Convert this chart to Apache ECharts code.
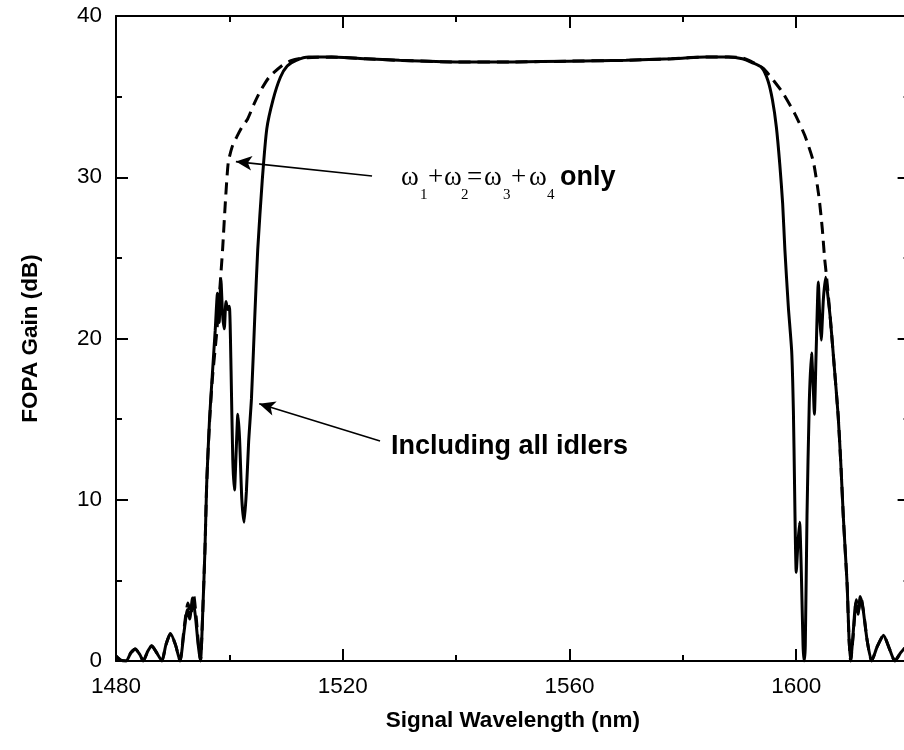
<!DOCTYPE html>
<html><head><meta charset="utf-8">
<script src="https://cdn.jsdelivr.net/npm/echarts@6/dist/echarts.min.js"></script>
<style>html,body{margin:0;padding:0;background:#fff}#c{width:904px;height:750px}</style>
</head><body><div id="c"></div>
<script>
// Wavelength (nm) / gain (dB), "Including all idlers" (solid)
const solidX = [1480.0,1480.8,1481.8,1482.6,1483.4,1484.2,1484.8,1485.6,1486.3,1487.2,1488.1,1488.8,1489.6,1490.5,1491.3,1492.0,1492.6,1493.0,1493.5,1494.0,1494.5,1494.9,1495.3,1495.7,1496.0,1496.5,1497.0,1497.5,1497.9,1498.2,1498.5,1498.8,1499.1,1499.4,1499.7,1500.0,1500.3,1500.6,1500.9,1501.2,1501.5,1501.8,1502.2,1502.6,1503.0,1503.4,1503.9,1504.5,1505.0,1505.8,1506.6,1507.7,1509.0,1510.2,1511.8,1514.0,1518.0,1524.0,1530.0,1540.0,1550.0,1560.0,1570.0,1578.0,1584.0,1588.0,1590.5,1592.3,1593.9,1595.0,1595.8,1596.5,1597.1,1597.6,1598.0,1598.6,1599.2,1599.5,1599.7,1599.85,1600.0,1600.3,1600.6,1600.9,1601.2,1601.4,1601.6,1601.9,1602.3,1602.7,1603.0,1603.2,1603.5,1603.9,1604.15,1604.4,1604.8,1605.2,1605.5,1606.0,1606.7,1607.4,1607.9,1608.3,1608.7,1609.0,1609.3,1609.6,1610.0,1610.5,1610.9,1611.3,1611.8,1612.5,1613.3,1614.3,1615.4,1616.4,1617.4,1618.4,1619.2,1620.0];
const solidY = [0.3,0.05,0.0,0.5,0.75,0.4,0.0,0.6,0.95,0.5,0.0,1.0,1.7,1.0,0.0,1.8,3.2,2.6,3.9,2.8,1.0,0.0,3.0,7.0,11.0,15.0,17.8,20.5,22.8,21.0,23.7,21.5,20.6,22.3,21.8,22.0,18.0,12.5,10.6,13.0,15.3,13.8,10.0,8.6,10.5,13.6,16.3,21.5,25.5,29.8,33.0,34.8,36.2,36.9,37.25,37.45,37.45,37.35,37.25,37.15,37.15,37.2,37.25,37.35,37.45,37.45,37.35,37.1,36.8,36.0,34.8,33.1,30.8,28.4,25.5,22.0,19.2,15.5,11.0,7.5,5.5,7.3,8.6,5.5,1.0,0.0,1.0,9.0,16.0,19.1,17.0,15.3,19.0,23.5,21.3,19.9,22.5,23.8,22.9,21.3,18.3,15.2,12.0,9.0,6.5,4.6,1.5,0.0,1.5,3.6,2.9,4.0,3.2,1.3,0.0,0.9,1.6,0.8,0.0,0.5,0.8,0.5];

// "ω1+ω2=ω3+ω4 only" (dashed)
const dashX = [1480.0,1480.8,1481.8,1482.6,1483.4,1484.2,1484.8,1485.6,1486.3,1487.2,1488.1,1488.8,1489.6,1490.5,1491.3,1492.0,1492.7,1493.2,1493.7,1494.2,1494.6,1494.9,1495.3,1495.7,1496.0,1496.5,1497.0,1497.8,1498.3,1498.8,1499.3,1499.8,1500.5,1501.3,1502.2,1503.2,1504.3,1505.4,1507.0,1509.2,1511.0,1513.0,1518.0,1524.0,1530.0,1540.0,1550.0,1560.0,1570.0,1578.0,1584.0,1588.0,1590.5,1592.5,1594.2,1596.0,1597.7,1599.8,1601.5,1603.0,1604.0,1604.6,1605.0,1605.3,1605.6,1606.0,1606.7,1607.4,1607.9,1608.3,1608.7,1609.0,1609.3,1609.6,1610.1,1610.6,1611.0,1611.4,1611.9,1612.5,1613.3,1614.3,1615.4,1616.4,1617.4,1618.4,1619.2,1620.0];
const dashY = [0.3,0.05,0.0,0.5,0.75,0.4,0.0,0.6,0.95,0.5,0.0,1.0,1.7,1.0,0.0,2.0,3.6,2.9,4.1,2.5,0.8,0.0,3.0,7.0,11.0,14.8,17.5,20.5,23.0,25.5,28.5,30.9,31.9,32.5,33.1,33.6,34.5,35.3,36.2,36.9,37.25,37.4,37.45,37.35,37.25,37.15,37.15,37.2,37.25,37.35,37.45,37.45,37.4,37.1,36.75,36.0,35.2,33.9,32.6,31.0,28.8,26.8,25.0,24.0,22.9,21.3,18.3,15.2,12.0,9.0,6.5,4.6,1.5,0.0,1.8,3.8,3.1,4.0,3.0,1.3,0.0,0.9,1.6,0.8,0.0,0.5,0.8,0.5];

// Axis settings
const xMin = 1480, xMax = 1620, xStep = 40;
const yMin = 0, yMax = 40, yStep = 10;
const xTitle = 'Signal Wavelength (nm)';
const yTitle = 'FOPA Gain (dB)';

// Annotation arrows [from, to] in data coordinates
const arrow1 = [[1525.17, 30.08], [1501.15, 30.97]];
const arrow2 = [[1526.58, 13.64], [1505.26, 15.95]];
const label2 = 'Including all idlers';

const SANS = "'Liberation Sans', Arial, Helvetica, sans-serif";
const SERIF = "'Liberation Serif', 'Times New Roman', serif";

const chart = echarts.init(document.getElementById('c'), null, {renderer: 'canvas'});

const axisCommon = {
  axisLine: {show: true, onZero: false, lineStyle: {color: '#000', width: 2}},
  axisTick: {show: true, inside: true, length: 12, lineStyle: {color: '#000', width: 2}},
  minorTick: {show: true, splitNumber: 2, length: 6, lineStyle: {color: '#000', width: 2}},
  splitLine: {show: false},
  minorSplitLine: {show: false}
};
const plain = v => String(v);

const option = {
  animation: false,
  backgroundColor: '#fff',
  grid: {left: 116, top: 16, width: 793.6, height: 645, containLabel: false, outerBoundsMode: 'none'},
  xAxis: [
    Object.assign({
      type: 'value', position: 'bottom', min: xMin, max: xMax, interval: xStep,
      name: xTitle, nameLocation: 'middle', nameGap: 48,
      nameTextStyle: {color: '#000', fontFamily: SANS, fontWeight: 'bold', fontSize: 22.5},
      axisLabel: {show: true, color: '#000', fontFamily: SANS, fontSize: 22.5, margin: 14, showMaxLabel: false, formatter: plain}
    }, axisCommon),
    Object.assign({
      type: 'value', position: 'top', min: xMin, max: xMax, interval: xStep,
      axisLabel: {show: false}
    }, axisCommon)
  ],
  yAxis: [
    Object.assign({
      type: 'value', position: 'left', min: yMin, max: yMax, interval: yStep,
      name: yTitle, nameLocation: 'middle', nameGap: 74, nameRotate: 90,
      nameTextStyle: {color: '#000', fontFamily: SANS, fontWeight: 'bold', fontSize: 22.5},
      axisLabel: {show: true, color: '#000', fontFamily: SANS, fontSize: 22.5, margin: 14, formatter: plain}
    }, axisCommon),
    Object.assign({
      type: 'value', position: 'right', min: yMin, max: yMax, interval: yStep,
      axisLabel: {show: false}
    }, axisCommon)
  ],
  series: [
    {
      type: 'line', name: 'only', xAxisIndex: 0, yAxisIndex: 0,
      data: dashX.map((x, i) => [x, dashY[i]]),
      showSymbol: false, symbol: 'none', smooth: 0.2,
      lineStyle: {color: '#000', width: 3, type: [12, 7]},
      silent: true, z: 2
    },
    {
      type: 'line', name: 'all', xAxisIndex: 0, yAxisIndex: 0,
      data: solidX.map((x, i) => [x, solidY[i]]),
      showSymbol: false, symbol: 'none', smooth: 0.2,
      lineStyle: {color: '#000', width: 3},
      silent: true, z: 3,
      markLine: {
        silent: true, animation: false,
        symbol: ['none', 'arrow'], symbolSize: [11, 16],
        label: {show: false},
        lineStyle: {color: '#000', width: 1.6, type: 'solid'},
        data: [
          [{coord: arrow1[0]}, {coord: arrow1[1]}],
          [{coord: arrow2[0]}, {coord: arrow2[1]}]
        ]
      }
    }
  ],
  graphic: [
    {type: 'group', children: [
      {type: 'text', x: 401, y: 177.6, style: {text: 'ω', font: '27px ' + SERIF, fill: '#000', textAlign: 'left', textVerticalAlign: 'middle', align: 'left', verticalAlign: 'middle'}},
      {type: 'text', x: 420, y: 195, style: {text: '1', font: '15px ' + SERIF, fill: '#000', textAlign: 'left', textVerticalAlign: 'middle', align: 'left', verticalAlign: 'middle'}},
      {type: 'text', x: 428, y: 177.6, style: {text: '+', font: '27px ' + SERIF, fill: '#000', textAlign: 'left', textVerticalAlign: 'middle', align: 'left', verticalAlign: 'middle'}},
      {type: 'text', x: 444, y: 177.6, style: {text: 'ω', font: '27px ' + SERIF, fill: '#000', textAlign: 'left', textVerticalAlign: 'middle', align: 'left', verticalAlign: 'middle'}},
      {type: 'text', x: 461, y: 195, style: {text: '2', font: '15px ' + SERIF, fill: '#000', textAlign: 'left', textVerticalAlign: 'middle', align: 'left', verticalAlign: 'middle'}},
      {type: 'text', x: 467, y: 177.6, style: {text: '=', font: '27px ' + SERIF, fill: '#000', textAlign: 'left', textVerticalAlign: 'middle', align: 'left', verticalAlign: 'middle'}},
      {type: 'text', x: 484, y: 177.6, style: {text: 'ω', font: '27px ' + SERIF, fill: '#000', textAlign: 'left', textVerticalAlign: 'middle', align: 'left', verticalAlign: 'middle'}},
      {type: 'text', x: 503, y: 195, style: {text: '3', font: '15px ' + SERIF, fill: '#000', textAlign: 'left', textVerticalAlign: 'middle', align: 'left', verticalAlign: 'middle'}},
      {type: 'text', x: 511, y: 177.6, style: {text: '+', font: '27px ' + SERIF, fill: '#000', textAlign: 'left', textVerticalAlign: 'middle', align: 'left', verticalAlign: 'middle'}},
      {type: 'text', x: 529, y: 177.6, style: {text: 'ω', font: '27px ' + SERIF, fill: '#000', textAlign: 'left', textVerticalAlign: 'middle', align: 'left', verticalAlign: 'middle'}},
      {type: 'text', x: 547, y: 195, style: {text: '4', font: '15px ' + SERIF, fill: '#000', textAlign: 'left', textVerticalAlign: 'middle', align: 'left', verticalAlign: 'middle'}},
      {type: 'text', x: 560, y: 177.3, style: {text: 'only', font: 'bold 27px ' + SANS, fill: '#000', textAlign: 'left', textVerticalAlign: 'middle', align: 'left', verticalAlign: 'middle'}}
    ]},
    {type: 'text', x: 391, y: 446.6, style: {text: label2, font: 'bold 27px ' + SANS, fill: '#000', textAlign: 'left', textVerticalAlign: 'middle', align: 'left', verticalAlign: 'middle'}}
  ]
};
chart.setOption(option);
</script>
</body></html>
